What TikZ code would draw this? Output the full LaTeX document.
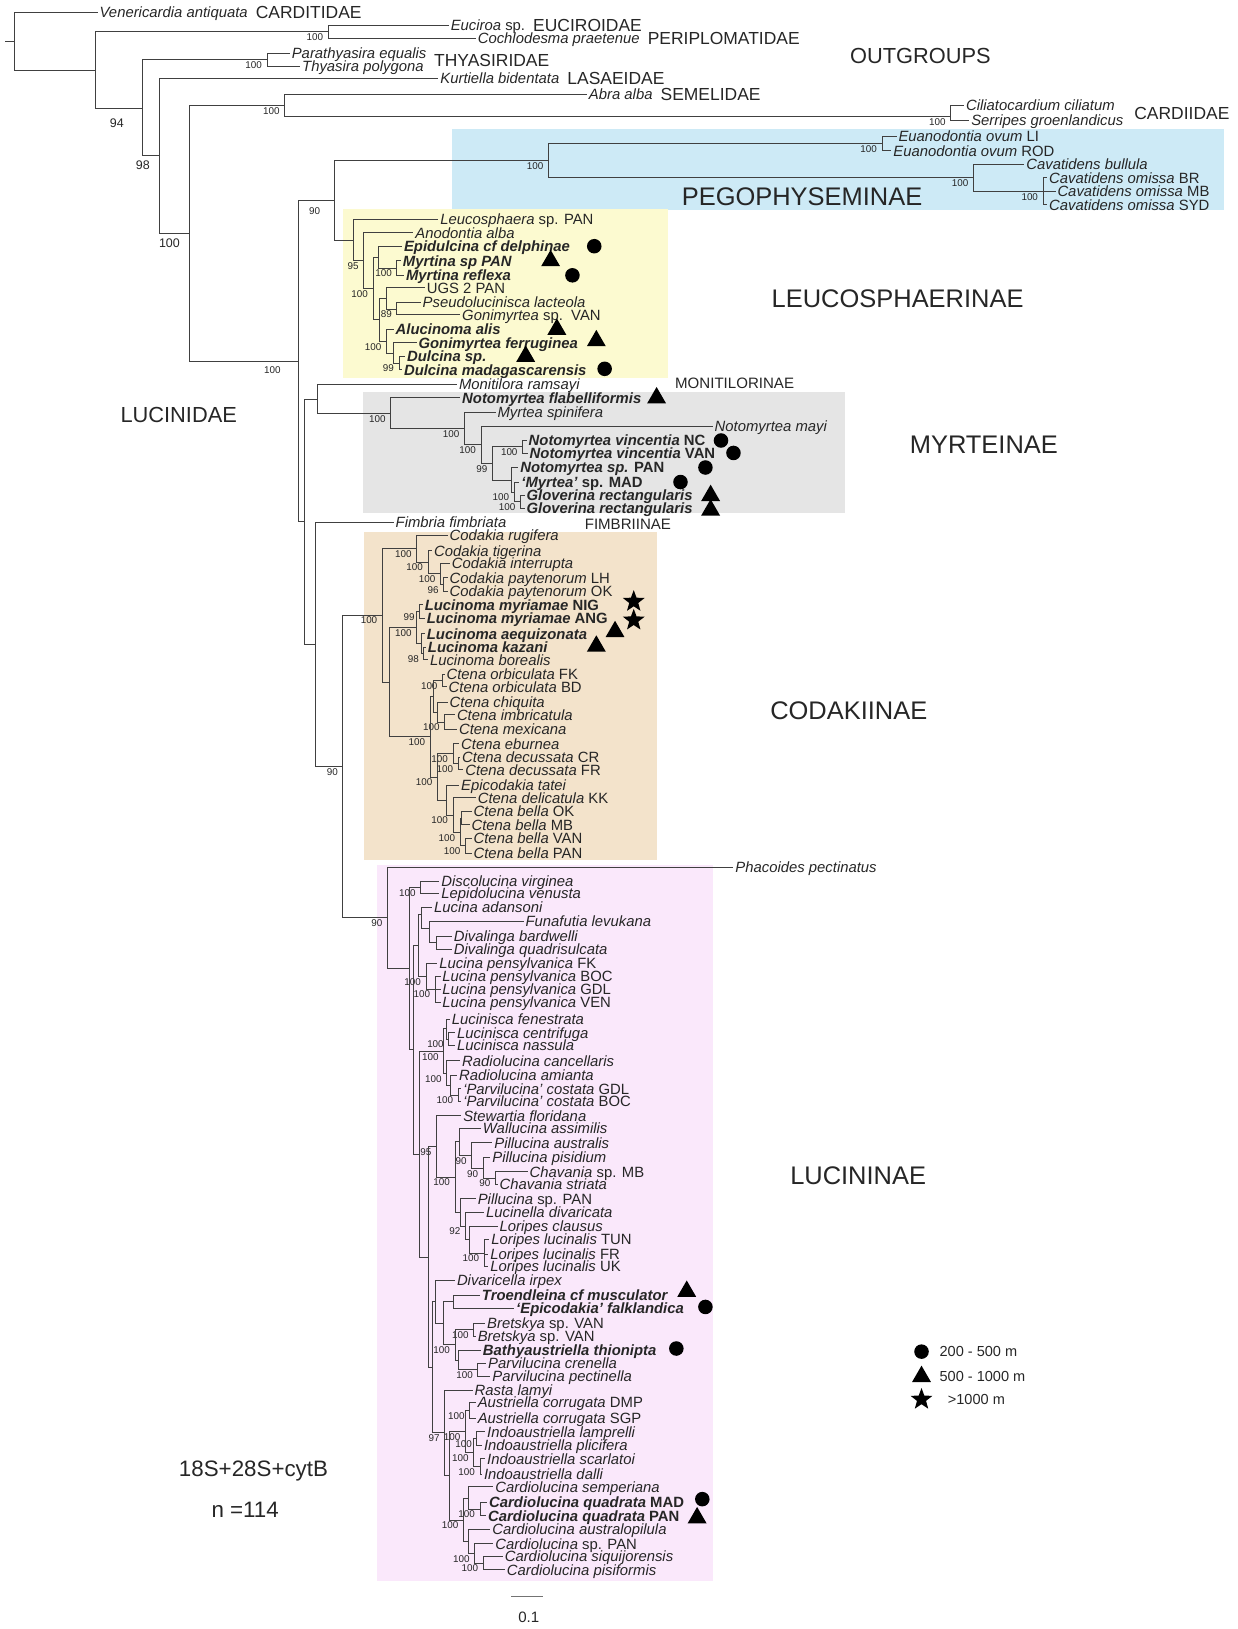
\documentclass[tikz,border=0pt]{standalone}
\usepackage{fontspec}
\setmainfont{Liberation Sans}
\usepackage{tikz}
\usetikzlibrary{positioning}
\usetikzlibrary{shapes.geometric}
\definecolor{pegoblue}{RGB}{205,234,246}
\definecolor{leucoyellow}{RGB}{252,250,208}
\definecolor{myrtgrey}{RGB}{229,229,229}
\definecolor{codakwheat}{RGB}{243,227,203}
\definecolor{lucinpink}{RGB}{250,232,251}
\newcommand*{\sfx}[1]{\textup{#1}}
\newcommand*{\clade}[4]{% #1 = name, #2 = x, #3 = y, #4 = support
   \coordinate[label={[bs]below left:#4}] (#1) at (#2,#3);
}
\newcommand*{\taxon}[4]{% #1 = name, #2 = tip x, #3 = y, #4 = text
   \node[taxon] (#1) at (#2,#3) {#4};
}
\newcommand*{\taxonb}[4]{% same, bold (deep-water taxa)
   \node[taxonbold] (#1) at (#2,#3) {#4};
}
\begin{document}
\begin{tikzpicture}[
		x=1pt,
		y=-1pt,
		node distance=4pt,
		line width=0.8pt
	]
		\tikzstyle{taxon}=[anchor=west, inner sep=1.5pt, text height=10.4pt, text depth=0pt, text=black!85, font=\fontsize{14.3}{15}\selectfont\itshape]
		\tikzstyle{taxonbold}=[taxon, font=\fontsize{14.3}{15}\selectfont\bfseries\itshape]
		\tikzstyle{fam}=[inner sep=1.5pt, text height=12pt, text depth=0pt, text=black!85, font=\fontsize{16.8}{18}\selectfont]
		\tikzstyle{grp}=[inner sep=0pt, text=black!85, font=\fontsize{24.5}{26}\selectfont]
		\tikzstyle{legend}=[inner sep=1pt, text=black!85, font=\fontsize{14}{15}\selectfont]
		\tikzstyle{bs}=[inner sep=0.5pt, xshift=-4pt, yshift=-1pt, text=black!85, font=\fontsize{9.5}{10}\selectfont]
		\tikzstyle{bsl}=[bs, font=\fontsize{12}{12}\selectfont, xshift=-4pt, yshift=-3pt]
		\tikzstyle{branch}=[draw=black!75]
		\tikzstyle{dotmark}=[circle, fill=black, inner sep=0pt, minimum size=14pt]
		\tikzstyle{trimark}=[regular polygon, regular polygon sides=3, fill=black, inner sep=0pt, minimum size=21pt]
		\tikzstyle{starmark}=[star, star points=5, star point ratio=2.4, fill=black, inner sep=0pt, minimum size=22pt]

		\useasboundingbox (0,0) rectangle (1191,1568);
		\fill[pegoblue] (435,124) rectangle (1178,202);
		\fill[leucoyellow] (330,201) rectangle (643,364);
		\fill[myrtgrey] (349,377) rectangle (813,494);
		\fill[codakwheat] (350,512) rectangle (632,828);
		\fill[lucinpink] (363,833) rectangle (686,1522);

		% outgroups
		\coordinate (stub) at (5,40);
		\clade{rt}{14}{40}{}
		\taxon{veni}{94}{12}{Venericardia antiquata}
		\clade{A}{92}{67.5}{}
		\clade{Euc}{316}{30.5}{100}
		\taxon{euci}{432}{24}{Euciroa \sfx{sp.}}
		\taxon{coch}{458}{37}{Cochlodesma praetenue}
		\coordinate[label={[bsl, xshift=-9pt, yshift=-5pt]below left:94}] (B) at (137,104);
		\clade{Thy}{257}{57.5}{100}
		\taxon{para}{279}{51}{Parathyasira equalis}
		\taxon{thya}{289}{64}{Thyasira polygona}
		\coordinate[label={[bsl]below left:98}] (C) at (153,150);
		\taxon{kurt}{422}{75}{Kurtiella bidentata}
		\coordinate[label={[bsl]below left:100}] (D) at (182,224.75);
		\clade{AbC}{274}{101.5}{100}
		\taxon{abra}{565}{91}{Abra alba}
		\clade{Card}{915}{112}{100}
		\taxon{cili}{928}{101}{Ciliatocardium ciliatum}
		\taxon{serr}{933}{116}{Serripes groenlandicus}
		\node[fam, right=of veni] (carditidae) {CARDITIDAE};
		\node[fam, right=of euci] (euciroidae) {EUCIROIDAE};
		\node[fam, right=of coch] (periplomatidae) {PERIPLOMATIDAE};
		\node[fam, anchor=west] (thyasiridae) at (416,58) {THYASIRIDAE};
		\node[fam, right=of kurt] (lasaeidae) {LASAEIDAE};
		\node[fam, right=of abra] (semelidae) {SEMELIDAE};
		\node[fam, anchor=west] (cardiidae) at (1090,109) {CARDIIDAE};
		\node[grp, font=\fontsize{21}{22}\selectfont] (outgroups) at (886,54) {OUTGROUPS};

		% Lucinidae
		\coordinate[label={[bs, xshift=-12pt, yshift=-3pt]below left:100}] (R) at (287,347.5);
		\coordinate[label={[bs, xshift=-9pt, yshift=-5pt]below left:90}] (PL) at (322,193);
		\node[grp, font=\fontsize{21}{22}\selectfont] (lucinidae) at (172,399) {LUCINIDAE};

		% Pegophyseminae
		\clade{Pego}{528}{154.5}{100}
		\clade{Euan}{849}{138}{100}
		\taxon{eli}{863}{131}{Euanodontia ovum \sfx{LI}}
		\taxon{erod}{858}{145}{Euanodontia ovum \sfx{ROD}}
		\clade{Cav}{937}{171}{100}
		\taxon{cbul}{986}{158}{Cavatidens bullula}
		\clade{Om}{1004}{184}{100}
		\taxon{cbr}{1008}{171}{Cavatidens omissa \sfx{BR}}
		\taxon{cmb}{1016}{184}{Cavatidens omissa \sfx{MB}}
		\taxon{csyd}{1008}{197}{Cavatidens omissa \sfx{SYD}}
		\node[grp] (pego) at (772,189) {PEGOPHYSEMINAE};

		% Leucosphaerinae
		\clade{L0}{340}{231}{}
		\taxon{leuc}{422}{211}{Leucosphaera \sfx{sp. PAN}}
		\clade{L1}{350}{251}{95}
		\taxon{anod}{398}{224}{Anodontia alba}
		\clade{L2}{359}{277.5}{100}
		\clade{L3}{364}{247.5}{}
		\taxonb{epid}{387}{237}{Epidulcina cf delphinae}
		\clade{L5}{382}{258}{100}
		\taxonb{myrp}{386}{251}{Myrtina sp PAN}
		\taxonb{myrr}{389}{265}{Myrtina reflexa}
		\clade{L4}{365}{307.75}{}
		\clade{L6}{371.5}{287}{}
		\taxon{ugs}{409}{277}{\sfx{UGS 2 PAN}}
		\clade{L7}{382}{297.5}{89}
		\taxon{pseu}{405}{291}{Pseudolucinisca lacteola}
		\taxon{gonv}{443}{303}{Gonimyrtea \sfx{sp.\ \ VAN}}
		\clade{L8}{372}{328.5}{100}
		\taxonb{aluc}{379}{317}{Alucinoma alis}
		\clade{L9}{379}{340}{}
		\taxonb{gonf}{401}{330}{Gonimyrtea ferruginea}
		\clade{L10}{384}{349.5}{99}
		\taxonb{dulc}{390}{343}{Dulcina sp.}
		\taxonb{dulm}{387}{356}{Dulcina madagascarensis}
		\node[grp] (leuco) at (864,288) {LEUCOSPHAERINAE};

		% Monitilorinae, Myrteinae
		\clade{P}{293}{502}{}
		\clade{M0}{306}{384}{}
		\taxon{moni}{440}{370}{Monitilora ramsayi}
		\node[fam, anchor=west, font=\fontsize{14.5}{15}\selectfont] (monitilorinae) at (648,368) {MONITILORINAE};
		\clade{M1}{376}{398}{100}
		\taxonb{nfla}{443}{383}{Notomyrtea flabelliformis}
		\clade{M2}{447}{412.5}{100}
		\taxon{mspi}{477}{397}{Myrtea spinifera}
		\clade{M3}{463}{428}{100}
		\taxon{nmay}{686}{410}{Notomyrtea mayi}
		\clade{M4}{474}{446}{99}
		\clade{M5}{503}{430}{100}
		\taxonb{nvnc}{507}{424}{Notomyrtea vincentia \sfx{NC}}
		\taxonb{nvvan}{508}{436}{Notomyrtea vincentia \sfx{VAN}}
		\clade{M6}{492}{462}{}
		\taxonb{ntsp}{499}{450}{Notomyrtea sp. \sfx{PAN}}
		\clade{M7}{495}{473.5}{100}
		\taxonb{mmad}{500}{464}{‘Myrtea’ \sfx{sp. MAD}}
		\clade{M8}{501}{483}{100}
		\taxonb{glo1}{505}{477}{Gloverina rectangularis}
		\taxonb{glo2}{505}{489}{Gloverina rectangularis}
		\node[grp] (myrt) at (947,428) {MYRTEINAE};

		% Fimbriinae
		\clade{N}{304}{620}{}
		\taxon{fimb}{379}{503}{Fimbria fimbriata}
		\node[fam, anchor=west, font=\fontsize{14.5}{15}\selectfont] (fimbriinae) at (561,504) {FIMBRIINAE};
		\clade{CL}{330}{737.75}{90}

		% Codakiinae
		\clade{CK0}{368}{592}{100}
		\clade{CK1}{401}{528}{100}
		\taxon{crug}{431}{515}{Codakia rugifera}
		\clade{CK3}{412}{541}{100}
		\taxon{ctig}{416}{530}{Codakia tigerina}
		\clade{CK4}{424}{552}{100}
		\taxon{cint}{433}{542}{Codakia interrupta}
		\clade{CK5}{427}{562.5}{96}
		\taxon{cplh}{431}{556}{Codakia paytenorum \sfx{LH}}
		\taxon{cpok}{431}{569}{Codakia paytenorum \sfx{OK}}
		\clade{CK2}{375}{656.5}{}
		\clade{CK6}{401}{604}{100}
		\clade{Lm}{404}{588.5}{99}
		\taxonb{lmn}{407}{582}{Lucinoma myriamae \sfx{NIG}}
		\taxonb{lma}{409}{595}{Lucinoma myriamae \sfx{ANG}}
		\clade{LA}{406}{619.5}{}
		\taxonb{laeq}{409}{610}{Lucinoma aequizonata}
		\clade{LK}{408}{629}{98}
		\taxonb{lkaz}{410}{623}{Lucinoma kazani}
		\taxon{lbor}{412}{635}{Lucinoma borealis}
		\clade{CK7}{414}{709}{100}
		\clade{CK8}{417}{670}{}
		\clade{Orb}{426}{655}{100}
		\taxon{cofk}{428}{649}{Ctena orbiculata \sfx{FK}}
		\taxon{cobd}{430}{661}{Ctena orbiculata \sfx{BD}}
		\clade{Chq}{421}{685.5}{}
		\taxon{cchi}{431}{676}{Ctena chiquita}
		\clade{IM}{428}{695}{100}
		\taxon{cimb}{438}{688}{Ctena imbricatula}
		\taxon{cmex}{440}{702}{Ctena mexicana}
		\clade{CK9}{421}{748}{100}
		\clade{Eb}{436}{725.5}{100}
		\taxon{cebu}{442}{716}{Ctena eburnea}
		\clade{Dc}{441}{735}{100}
		\taxon{cdcr}{443}{729}{Ctena decussata \sfx{CR}}
		\taxon{cdfr}{446}{741}{Ctena decussata \sfx{FR}}
		\clade{Ep}{430}{770}{}
		\taxon{etat}{442}{756}{Epicodakia tatei}
		\clade{Ep2}{436}{784.5}{100}
		\taxon{cdel}{458}{768}{Ctena delicatula \sfx{KK}}
		\clade{Bl}{443}{801}{100}
		\clade{Bl1}{444}{787.5}{}
		\taxon{cbok}{454}{781}{Ctena bella \sfx{OK}}
		\taxon{cbmb}{452}{794}{Ctena bella \sfx{MB}}
		\clade{Bl2}{448}{814}{100}
		\taxon{cbva}{454}{807}{Ctena bella \sfx{VAN}}
		\taxon{cbpa}{454}{821}{Ctena bella \sfx{PAN}}
		\node[grp] (codak) at (817,684) {CODAKIINAE};

		% Lucininae
		\clade{LU0}{373}{883.5}{90}
		\taxon{phac}{706}{835}{Phacoides pectinatus}
		\clade{LU1}{394}{932}{}
		\clade{Dsc}{405}{854}{100}
		\taxon{disc}{423}{848}{Discolucina virginea}
		\taxon{lepi}{423}{860}{Lepidolucina venusta}
		\clade{LU2}{398}{1010.5}{}
		\clade{LU3}{403}{910}{}
		\clade{Adan}{406}{880}{}
		\taxon{ladn}{416}{873}{Lucina adansoni}
		\clade{AdanB}{413}{894}{}
		\taxon{funa}{504}{887}{Funafutia levukana}
		\clade{Dival}{420}{907.5}{}
		\taxon{dbar}{435}{901}{Divalinga bardwelli}
		\taxon{dqua}{435}{914}{Divalinga quadrisulcata}
		\clade{Pens}{410}{940}{100}
		\taxon{pfk}{421}{927}{Lucina pensylvanica \sfx{FK}}
		\clade{PensB}{419}{952}{100}
		\taxon{pboc}{424}{940}{Lucina pensylvanica \sfx{BOC}}
		\taxon{pgdl}{424}{952}{Lucina pensylvanica \sfx{GDL}}
		\taxon{pven}{424}{965}{Lucina pensylvanica \sfx{VEN}}
		\clade{LU4}{404}{1111}{}
		\clade{LS0}{427}{1012}{100}
		\clade{LC}{430}{990}{}
		\taxon{lfen}{433}{981}{Lucinisca fenestrata}
		\clade{LCp}{432}{1000}{100}
		\taxon{lcen}{438}{994}{Lucinisca centrifuga}
		\taxon{lnas}{438}{1006}{Lucinisca nassula}
		\clade{RG0}{430}{1033.5}{100}
		\taxon{rcan}{443}{1021}{Radiolucina cancellaris}
		\clade{RG1}{434}{1044.5}{}
		\taxon{rami}{440}{1035}{Radiolucina amianta}
		\clade{Cos}{441}{1054}{100}
		\taxon{pcg}{444}{1048}{‘Parvilucina’ costata \sfx{GDL}}
		\taxon{pcb}{444}{1060}{‘Parvilucina’ costata \sfx{BOC}}
		\clade{LU5}{412}{1210}{}
		\clade{SG}{420}{1103.5}{95}
		\taxon{stew}{444}{1074}{Stewartia floridana}
		\clade{SG2}{438}{1133}{100}
		\clade{WG}{442}{1099}{}
		\taxon{wall}{463}{1086}{Wallucina assimilis}
		\clade{PG}{454}{1112.5}{90}
		\taxon{paus}{474}{1100}{Pillucina australis}
		\clade{PG2}{465}{1125}{90}
		\taxon{ppis}{472}{1114}{Pillucina pisidium}
		\clade{Chav}{477}{1134}{90}
		\taxon{chmb}{508}{1128}{Chavania \sfx{sp. MB}}
		\taxon{chst}{479}{1140}{Chavania striata}
		\clade{LG}{443}{1167}{}
		\taxon{ppan}{458}{1154}{Pillucina \sfx{sp. PAN}}
		\clade{LG2}{448}{1180}{92}
		\taxon{ldiv}{466}{1167}{Lucinella divaricata}
		\clade{LO}{452}{1193}{}
		\taxon{lcla}{479}{1180}{Loripes clausus}
		\clade{LL}{466}{1206}{100}
		\taxon{ltun}{471}{1193}{Loripes lucinalis \sfx{TUN}}
		\taxon{lfr}{470}{1207}{Loripes lucinalis \sfx{FR}}
		\taxon{luk}{470}{1219}{Loripes lucinalis \sfx{UK}}
		\clade{LU6}{416}{1316}{}
		\clade{DG0}{419}{1253}{}
		\taxon{divi}{438}{1232}{Divaricella irpex}
		\clade{DG1}{427}{1274}{}
		\clade{TE}{436}{1253}{}
		\taxonb{troe}{462}{1247}{Troendleina cf musculator}
		\taxonb{epif}{495}{1259}{‘Epicodakia’ falklandica}
		\clade{BP}{438}{1294.5}{100}
		\clade{Bre}{456}{1280}{100}
		\taxon{brv1}{467}{1274}{Bretskya \sfx{sp. VAN}}
		\taxon{brv2}{458}{1286}{Bretskya \sfx{sp. VAN}}
		\clade{BtP}{441}{1309}{}
		\taxonb{bath}{463}{1300}{Bathyaustriella thionipta}
		\clade{Parv}{460}{1318.5}{100}
		\taxon{pcre}{468}{1312}{Parvilucina crenella}
		\taxon{ppec}{472}{1325}{Parvilucina pectinella}
		\clade{RA}{428}{1379}{97}
		\taxon{rast}{455}{1338}{Rasta lamyi}
		\clade{AI}{433}{1420.5}{}
		\clade{AIg}{448}{1378}{100}
		\clade{Aus}{452}{1357.5}{100}
		\taxon{adm}{458}{1350}{Austriella corrugata \sfx{DMP}}
		\taxon{asg}{458}{1365}{Austriella corrugata \sfx{SGP}}
		\clade{Ind}{456}{1398}{100}
		\clade{IP}{459}{1384.5}{100}
		\taxon{ilam}{467}{1378}{Indoaustriella lamprelli}
		\taxon{ipli}{464}{1391}{Indoaustriella plicifera}
		\clade{IS}{462}{1411.5}{100}
		\taxon{isca}{467}{1404}{Indoaustriella scarlatoi}
		\taxon{idal}{464}{1419}{Indoaustriella dalli}
		\clade{CD}{446}{1463}{100}
		\clade{CS}{451}{1442}{}
		\taxon{csem}{475}{1431}{Cardiolucina semperiana}
		\clade{CQ}{462}{1452.5}{100}
		\taxonb{cqm}{469}{1446}{Cardiolucina quadrata \sfx{MAD}}
		\taxonb{cqp}{468}{1459}{Cardiolucina quadrata \sfx{PAN}}
		\clade{CA}{451}{1483.5}{}
		\taxon{caus}{472}{1472}{Cardiolucina australopilula}
		\clade{CB}{457}{1495}{100}
		\taxon{cspp}{475}{1486}{Cardiolucina \sfx{sp. PAN}}
		\clade{CC}{465}{1504.5}{100}
		\taxon{csiq}{484}{1498}{Cardiolucina siquijorensis}
		\taxon{cpis}{486}{1511}{Cardiolucina pisiformis}
		\node[grp] (lucin) at (826,1132) {LUCININAE};

		% branches
		\draw[branch] (stub) -- (rt);
		\draw[branch] (rt) |- (veni) (rt) |- (A);
		\draw[branch] (A) |- (Euc) (A) |- (B);
		\draw[branch] (Euc) |- (euci) (Euc) |- (coch);
		\draw[branch] (B) |- (Thy) (B) |- (C);
		\draw[branch] (Thy) |- (para) (Thy) |- (thya);
		\draw[branch] (C) |- (kurt) (C) |- (D);
		\draw[branch] (D) |- (AbC) (D) |- (R);
		\draw[branch] (AbC) |- (abra) (AbC) |- (Card);
		\draw[branch] (Card) |- (cili) (Card) |- (serr);
		\draw[branch] (R) |- (PL) (R) |- (P);
		\draw[branch] (PL) |- (Pego) (PL) |- (L0);
		\draw[branch] (Pego) |- (Euan) (Pego) |- (Cav);
		\draw[branch] (Euan) |- (eli) (Euan) |- (erod);
		\draw[branch] (Cav) |- (cbul) (Cav) |- (Om);
		\draw[branch] (Om) |- (cbr) (Om) |- (cmb) (Om) |- (csyd);
		\draw[branch] (L0) |- (leuc) (L0) |- (L1);
		\draw[branch] (L1) |- (anod) (L1) |- (L2);
		\draw[branch] (L2) |- (L3) (L2) |- (L4);
		\draw[branch] (L3) |- (epid) (L3) |- (L5);
		\draw[branch] (L5) |- (myrp) (L5) |- (myrr);
		\draw[branch] (L4) |- (L6) (L4) |- (L8);
		\draw[branch] (L6) |- (ugs) (L6) |- (L7);
		\draw[branch] (L7) |- (pseu) (L7) |- (gonv);
		\draw[branch] (L8) |- (aluc) (L8) |- (L9);
		\draw[branch] (L9) |- (gonf) (L9) |- (L10);
		\draw[branch] (L10) |- (dulc) (L10) |- (dulm);
		\draw[branch] (P) |- (M0) (P) |- (N);
		\draw[branch] (M0) |- (moni) (M0) |- (M1);
		\draw[branch] (M1) |- (nfla) (M1) |- (M2);
		\draw[branch] (M2) |- (mspi) (M2) |- (M3);
		\draw[branch] (M3) |- (nmay) (M3) |- (M4);
		\draw[branch] (M4) |- (M5) (M4) |- (M6);
		\draw[branch] (M5) |- (nvnc) (M5) |- (nvvan);
		\draw[branch] (M6) |- (ntsp) (M6) |- (M7);
		\draw[branch] (M7) |- (mmad) (M7) |- (M8);
		\draw[branch] (M8) |- (glo1) (M8) |- (glo2);
		\draw[branch] (N) |- (fimb) (N) |- (CL);
		\draw[branch] (CL) |- (CK0) (CL) |- (LU0);
		\draw[branch] (CK0) |- (CK1) (CK0) |- (CK2);
		\draw[branch] (CK1) |- (crug) (CK1) |- (CK3);
		\draw[branch] (CK3) |- (ctig) (CK3) |- (CK4);
		\draw[branch] (CK4) |- (cint) (CK4) |- (CK5);
		\draw[branch] (CK5) |- (cplh) (CK5) |- (cpok);
		\draw[branch] (CK2) |- (CK6) (CK2) |- (CK7);
		\draw[branch] (CK6) |- (Lm) (CK6) |- (LA);
		\draw[branch] (Lm) |- (lmn) (Lm) |- (lma);
		\draw[branch] (LA) |- (laeq) (LA) |- (LK);
		\draw[branch] (LK) |- (lkaz) (LK) |- (lbor);
		\draw[branch] (CK7) |- (CK8) (CK7) |- (CK9);
		\draw[branch] (CK8) |- (Orb) (CK8) |- (Chq);
		\draw[branch] (Orb) |- (cofk) (Orb) |- (cobd);
		\draw[branch] (Chq) |- (cchi) (Chq) |- (IM);
		\draw[branch] (IM) |- (cimb) (IM) |- (cmex);
		\draw[branch] (CK9) |- (Eb) (CK9) |- (Ep);
		\draw[branch] (Eb) |- (cebu) (Eb) |- (Dc);
		\draw[branch] (Dc) |- (cdcr) (Dc) |- (cdfr);
		\draw[branch] (Ep) |- (etat) (Ep) |- (Ep2);
		\draw[branch] (Ep2) |- (cdel) (Ep2) |- (Bl);
		\draw[branch] (Bl) |- (Bl1) (Bl) |- (Bl2);
		\draw[branch] (Bl1) |- (cbok) (Bl1) |- (cbmb);
		\draw[branch] (Bl2) |- (cbva) (Bl2) |- (cbpa);
		\draw[branch] (LU0) |- (phac) (LU0) |- (LU1);
		\draw[branch] (LU1) |- (Dsc) (LU1) |- (LU2);
		\draw[branch] (Dsc) |- (disc) (Dsc) |- (lepi);
		\draw[branch] (LU2) |- (LU3) (LU2) |- (LU4);
		\draw[branch] (LU3) |- (Adan) (LU3) |- (Pens);
		\draw[branch] (Adan) |- (ladn) (Adan) |- (AdanB);
		\draw[branch] (AdanB) |- (funa) (AdanB) |- (Dival);
		\draw[branch] (Dival) |- (dbar) (Dival) |- (dqua);
		\draw[branch] (Pens) |- (pfk) (Pens) |- (PensB);
		\draw[branch] (PensB) |- (pboc) (PensB) |- (pgdl) (PensB) |- (pven);
		\draw[branch] (LU4) |- (LS0) (LU4) |- (LU5);
		\draw[branch] (LS0) |- (LC) (LS0) |- (RG0);
		\draw[branch] (LC) |- (lfen) (LC) |- (LCp);
		\draw[branch] (LCp) |- (lcen) (LCp) |- (lnas);
		\draw[branch] (RG0) |- (rcan) (RG0) |- (RG1);
		\draw[branch] (RG1) |- (rami) (RG1) |- (Cos);
		\draw[branch] (Cos) |- (pcg) (Cos) |- (pcb);
		\draw[branch] (LU5) |- (SG) (LU5) |- (LU6);
		\draw[branch] (SG) |- (stew) (SG) |- (SG2);
		\draw[branch] (SG2) |- (WG) (SG2) |- (LG);
		\draw[branch] (WG) |- (wall) (WG) |- (PG);
		\draw[branch] (PG) |- (paus) (PG) |- (PG2);
		\draw[branch] (PG2) |- (ppis) (PG2) |- (Chav);
		\draw[branch] (Chav) |- (chmb) (Chav) |- (chst);
		\draw[branch] (LG) |- (ppan) (LG) |- (LG2);
		\draw[branch] (LG2) |- (ldiv) (LG2) |- (LO);
		\draw[branch] (LO) |- (lcla) (LO) |- (LL);
		\draw[branch] (LL) |- (ltun) (LL) |- (lfr) (LL) |- (luk);
		\draw[branch] (LU6) |- (DG0) (LU6) |- (RA);
		\draw[branch] (DG0) |- (divi) (DG0) |- (DG1);
		\draw[branch] (DG1) |- (TE) (DG1) |- (BP);
		\draw[branch] (TE) |- (troe) (TE) |- (epif);
		\draw[branch] (BP) |- (Bre) (BP) |- (BtP);
		\draw[branch] (Bre) |- (brv1) (Bre) |- (brv2);
		\draw[branch] (BtP) |- (bath) (BtP) |- (Parv);
		\draw[branch] (Parv) |- (pcre) (Parv) |- (ppec);
		\draw[branch] (RA) |- (rast) (RA) |- (AI);
		\draw[branch] (AI) |- (AIg) (AI) |- (CD);
		\draw[branch] (AIg) |- (Aus) (AIg) |- (Ind);
		\draw[branch] (Aus) |- (adm) (Aus) |- (asg);
		\draw[branch] (Ind) |- (IP) (Ind) |- (IS);
		\draw[branch] (IP) |- (ilam) (IP) |- (ipli);
		\draw[branch] (IS) |- (isca) (IS) |- (idal);
		\draw[branch] (CD) |- (CS) (CD) |- (CA);
		\draw[branch] (CS) |- (csem) (CS) |- (CQ);
		\draw[branch] (CQ) |- (cqm) (CQ) |- (cqp);
		\draw[branch] (CA) |- (caus) (CA) |- (CB);
		\draw[branch] (CB) |- (cspp) (CB) |- (CC);
		\draw[branch] (CC) |- (csiq) (CC) |- (cpis);

		% depth markers
		\node[dotmark] (mepid) at (572,237) {};
		\node[trimark] (mmyrp) at (530,251) {};
		\node[dotmark] (mmyrr) at (551,265) {};
		\node[trimark] (maluc) at (536,317) {};
		\node[trimark] (mgonf) at (574,328) {};
		\node[trimark] (mdulc) at (506,343) {};
		\node[dotmark] (mdulm) at (582,355) {};
		\node[trimark] (mnfla) at (632,383) {};
		\node[dotmark] (mnvnc) at (694,424) {};
		\node[dotmark] (mnvvan) at (706,436) {};
		\node[dotmark] (mntsp) at (679,450) {};
		\node[dotmark] (mmmad) at (655,464) {};
		\node[trimark] (mglo1) at (684,477) {};
		\node[trimark] (mglo2) at (684,491) {};
		\node[starmark] (mlmn) at (610,579) {};
		\node[starmark] (mlma) at (610,597) {};
		\node[trimark] (mlaeq) at (592,608) {};
		\node[trimark] (mlkaz) at (574,622) {};
		\node[trimark] (mtroe) at (661,1243) {};
		\node[dotmark] (mepif) at (679,1258) {};
		\node[dotmark] (mbath) at (651,1298) {};
		\node[dotmark] (mcqm) at (676,1443) {};
		\node[trimark] (mcqp) at (671,1461) {};

		% legend
		\node[dotmark] (lg1) at (887,1301) {};
		\node[trimark] (lg2) at (887,1325) {};
		\node[starmark] (lg3) at (887,1347) {};
		\node[legend, anchor=west] (lgt1) at (903,1301) {200 - 500 m};
		\node[legend, anchor=west] (lgt2) at (903,1325) {500 - 1000 m};
		\node[legend, anchor=west] (lgt3) at (911,1347) {>1000 m};

		% scale bar and data set
		\coordinate (sb0) at (492,1537);
		\coordinate (sb1) at (523,1537);
		\draw[branch, draw=black!55] (sb0) -- (sb1);
		\node[legend, font=\fontsize{14.5}{15}\selectfont] (sbl) at (509,1557) {0.1};
		\node[grp, font=\fontsize{21.5}{22}\selectfont] (dataset) at (244,1416) {18S+28S+cytB};
		\node[grp, font=\fontsize{21.5}{22}\selectfont] (ntaxa) at (236,1453) {n =114};
\end{tikzpicture}
\end{document}
